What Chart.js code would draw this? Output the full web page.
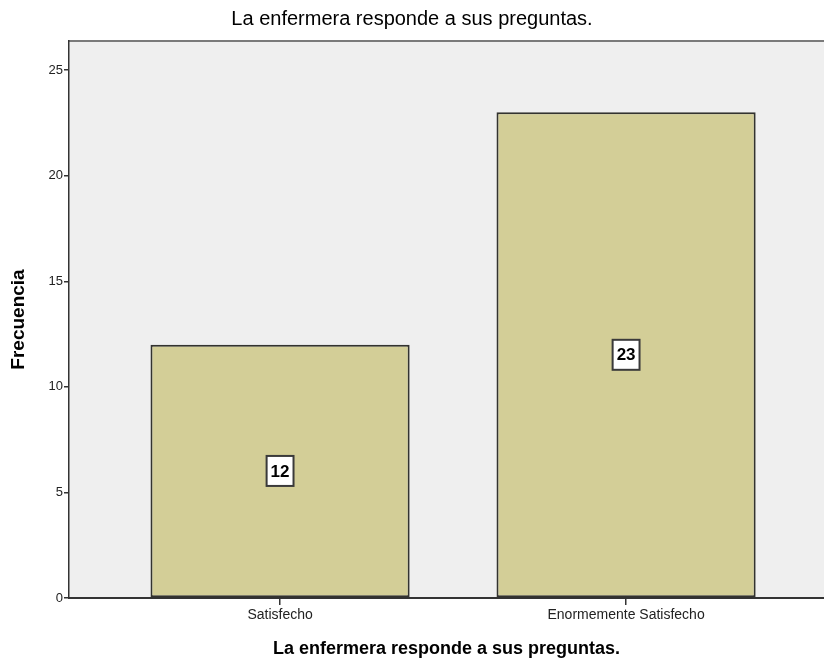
<!DOCTYPE html>
<html>
<head>
<meta charset="utf-8">
<script src="https://cdn.jsdelivr.net/npm/chart.js@4.4.1/dist/chart.umd.min.js"></script>
<style>
  html, body { margin: 0; padding: 0; background: #fff; }
  #wrap { width: 824px; height: 658px; }
</style>
</head>
<body>
<div id="wrap"><canvas id="chart"></canvas></div>
<script>
// ===== Data =====
const categories = ['Satisfecho', 'Enormemente Satisfecho'];
const frequencies = [12, 23];
const yTickValues = [0, 5, 10, 15, 20, 25];
const chartTitle = 'La enfermera responde a sus preguntas.';
const xTitle = 'La enfermera responde a sus preguntas.';
const yTitle = 'Frecuencia';

const BAR_FILL = '#d3ce97';
const BAR_EDGE = '#33332f';
const AXIS = '#333333';
const FONT = '"Liberation Sans", Arial, sans-serif';

// grey plot panel with a top rule, like the SPSS output
const plotPanel = {
  id: 'plotPanel',
  beforeDraw(chart) {
    const { ctx, chartArea: a } = chart;
    ctx.save();
    ctx.fillStyle = '#efefef';
    ctx.fillRect(a.left, a.top, a.right - a.left, a.bottom - a.top);
    ctx.strokeStyle = '#7a7a7a';
    ctx.lineWidth = 2;
    ctx.beginPath();
    ctx.moveTo(a.left, a.top);
    ctx.lineTo(a.right, a.top);
    ctx.stroke();
    ctx.restore();
  }
};

// boxed count in the middle of every bar
const valueBoxes = {
  id: 'valueBoxes',
  afterDatasetsDraw(chart) {
    const { ctx } = chart;
    const meta = chart.getDatasetMeta(0);
    ctx.save();
    ctx.font = 'bold 17px ' + FONT;
    ctx.textAlign = 'center';
    ctx.textBaseline = 'middle';
    meta.data.forEach((bar, i) => {
      const text = String(frequencies[i]);
      const cy = (bar.y + bar.base) / 2;
      const w = ctx.measureText(text).width + 8;
      const h = 30;
      ctx.fillStyle = '#fff';
      ctx.fillRect(bar.x - w / 2, cy - h / 2, w, h);
      ctx.strokeStyle = '#3a3a3a';
      ctx.lineWidth = 2;
      ctx.strokeRect(bar.x - w / 2, cy - h / 2, w, h);
      ctx.fillStyle = '#000';
      ctx.fillText(text, bar.x, cy + 1);
    });
    ctx.restore();
  }
};

new Chart(document.getElementById('chart'), {
  type: 'bar',
  data: {
    datasets: [{
      data: categories.map((c, i) => ({ x: i, y: frequencies[i] })),
      backgroundColor: BAR_FILL,
      borderColor: BAR_EDGE,
      borderWidth: 2,
      borderSkipped: false,
      categoryPercentage: 1,
      barPercentage: 0.749,
    }]
  },
  options: {
    responsive: true,
    maintainAspectRatio: false,
    animation: false,
    layout: { padding: 0 },
    plugins: {
      legend: { display: false },
      tooltip: { enabled: false },
      title: {
        display: true,
        text: chartTitle,
        color: '#000',
        font: { family: FONT, size: 20, weight: 'normal' },
        padding: { top: 7, bottom: 10 }
      }
    },
    scales: {
      x: {
        type: 'linear',
        offset: false,
        min: -0.61,
        max: 1.572,
        afterBuildTicks: (axis) => {
          axis.ticks = categories.map((c, i) => ({ value: i }));
        },
        afterFit: (axis) => { axis.height = 60; },
        ticks: {
          callback: (v) => categories[v] ?? '',
          color: '#222',
          font: { family: FONT, size: 14 },
          padding: 2,
          maxRotation: 0,
          autoSkip: false
        },
        grid: { offset: false, drawOnChartArea: false, drawTicks: true, tickLength: 7, color: AXIS, lineWidth: 1.5 },
        border: { display: true, color: AXIS, width: 2 },
        title: {
          display: true,
          text: xTitle,
          color: '#000',
          font: { family: FONT, size: 18, weight: 'bold' },
          padding: { top: 0, bottom: -2 }
        }
      },
      y: {
        min: 0,
        max: 26.38,
        afterBuildTicks: (axis) => {
          axis.ticks = yTickValues.map(v => ({ value: v }));
        },
        afterFit: (axis) => { axis.width = 69; },
        ticks: {
          color: '#222',
          font: { family: FONT, size: 13 },
          padding: 1
        },
        grid: { drawOnChartArea: false, drawTicks: true, tickLength: 5, color: AXIS, lineWidth: 1.5 },
        border: { display: true, color: AXIS, width: 1.5 },
        title: {
          display: true,
          text: yTitle,
          color: '#000',
          font: { family: FONT, size: 19, weight: 'bold' },
          padding: { top: 7, bottom: 0 }
        }
      }
    }
  },
  plugins: [plotPanel, valueBoxes]
});
</script>
</body>
</html>
